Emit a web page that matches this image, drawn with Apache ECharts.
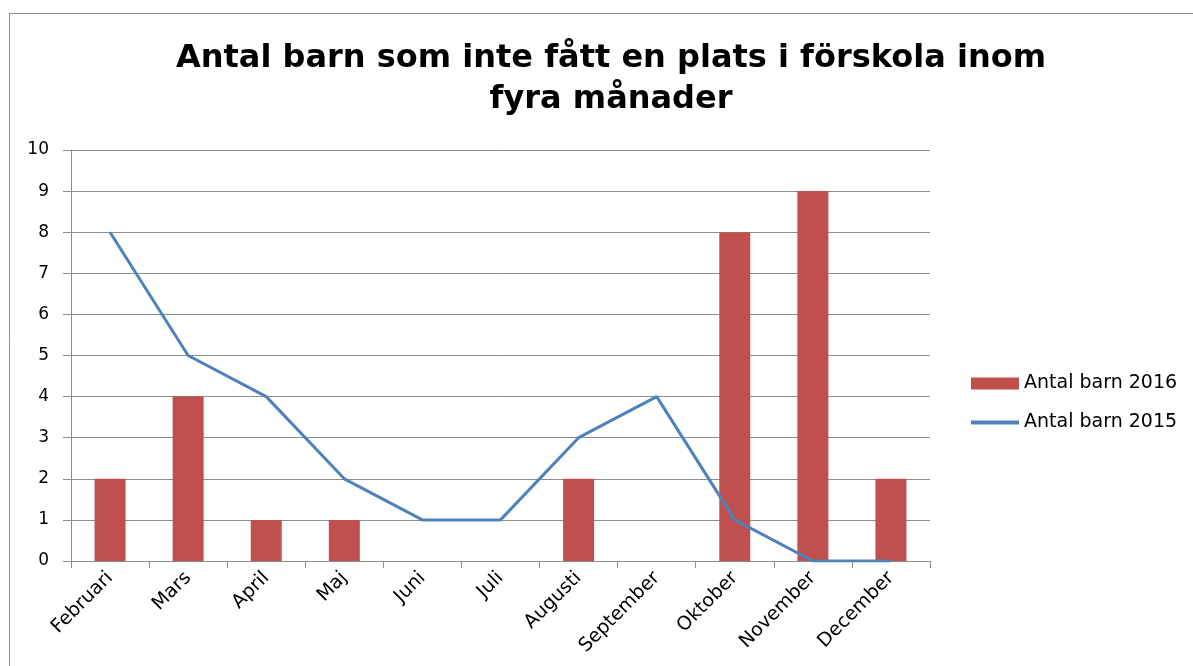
<!DOCTYPE html>
<html>
<head>
<meta charset="utf-8">
<style>
  html, body { margin: 0; padding: 0; background: #fff; }
  #main { width: 1193px; height: 666px; }
</style>
<script src="https://cdn.jsdelivr.net/npm/echarts@6/dist/echarts.min.js"></script>
</head>
<body>
<div id="main"></div>
<script>
var months = ['Februari', 'Mars', 'April', 'Maj', 'Juni', 'Juli', 'Augusti',
  'September', 'Oktober', 'November', 'December'];
var barn2016 = [2, 4, 1, 1, 0, 0, 2, 0, 8, 9, 2];
var barn2015 = [8, 5, 4, 2, 1, 1, 3, 4, 1, 0, 0];
var yTicks = ['0', '1', '2', '3', '4', '5', '6', '7', '8', '9', '10'];

var font = '"DejaVu Sans", sans-serif';
var chart = echarts.init(document.getElementById('main'));

chart.setOption({
  animation: false,
  textStyle: { fontFamily: font },
  graphic: [{
    type: 'rect',
    shape: { x: 9.5, y: 13.5, width: 1200, height: 700 },
    style: { fill: 'none', stroke: '#8c8c8c', lineWidth: 1 },
    silent: true
  }],
  title: {
    text: 'Antal barn som inte fått en plats i förskola inom\nfyra månader',
    left: 606,
    top: 33,
    textAlign: 'center',
    textStyle: {
      fontFamily: font,
      fontSize: 32,
      fontWeight: 'bold',
      color: '#000',
      lineHeight: 41
    }
  },
  legend: {
    orient: 'vertical',
    left: 964,
    top: 369,
    itemGap: 20,
    itemWidth: 48,
    itemHeight: 12,
    textStyle: { fontSize: 19, color: '#000', fontFamily: font },
    data: [
      { name: 'Antal barn 2016', icon: 'rect' },
      { name: 'Antal barn 2015', itemStyle: { opacity: 0 }, lineStyle: { width: 4, opacity: 1 } }
    ]
  },
  grid: { left: 71, right: 263, top: 150, bottom: 105 },
  xAxis: {
    type: 'category',
    data: months,
    boundaryGap: true,
    axisLine: { lineStyle: { color: '#8c8c8c', width: 1 } },
    axisTick: { show: true, length: 7, lineStyle: { color: '#8c8c8c' } },
    axisLabel: {
      rotate: 45,
      interval: 0,
      margin: 14,
      fontSize: 19,
      color: '#000',
      fontFamily: font
    }
  },
  yAxis: {
    type: 'value',
    min: 0,
    max: 10,
    interval: 1,
    axisLine: { show: true, lineStyle: { color: '#8c8c8c', width: 1 } },
    axisTick: { show: true, length: 8, lineStyle: { color: '#8c8c8c' } },
    splitLine: { show: true, lineStyle: { color: '#8c8c8c', width: 1 } },
    axisLabel: {
      margin: 22,
      fontSize: 17,
      color: '#000',
      fontFamily: font,
      formatter: function (v) { return yTicks[v]; }
    }
  },
  series: [
    {
      name: 'Antal barn 2016',
      type: 'bar',
      data: barn2016,
      barWidth: 31,
      itemStyle: { color: '#C0504D' }
    },
    {
      name: 'Antal barn 2015',
      type: 'line',
      data: barn2015,
      symbol: 'none',
      lineStyle: { color: '#4F81BD', width: 3 },
      itemStyle: { color: '#4F81BD' }
    }
  ]
});
</script>
</body>
</html>
